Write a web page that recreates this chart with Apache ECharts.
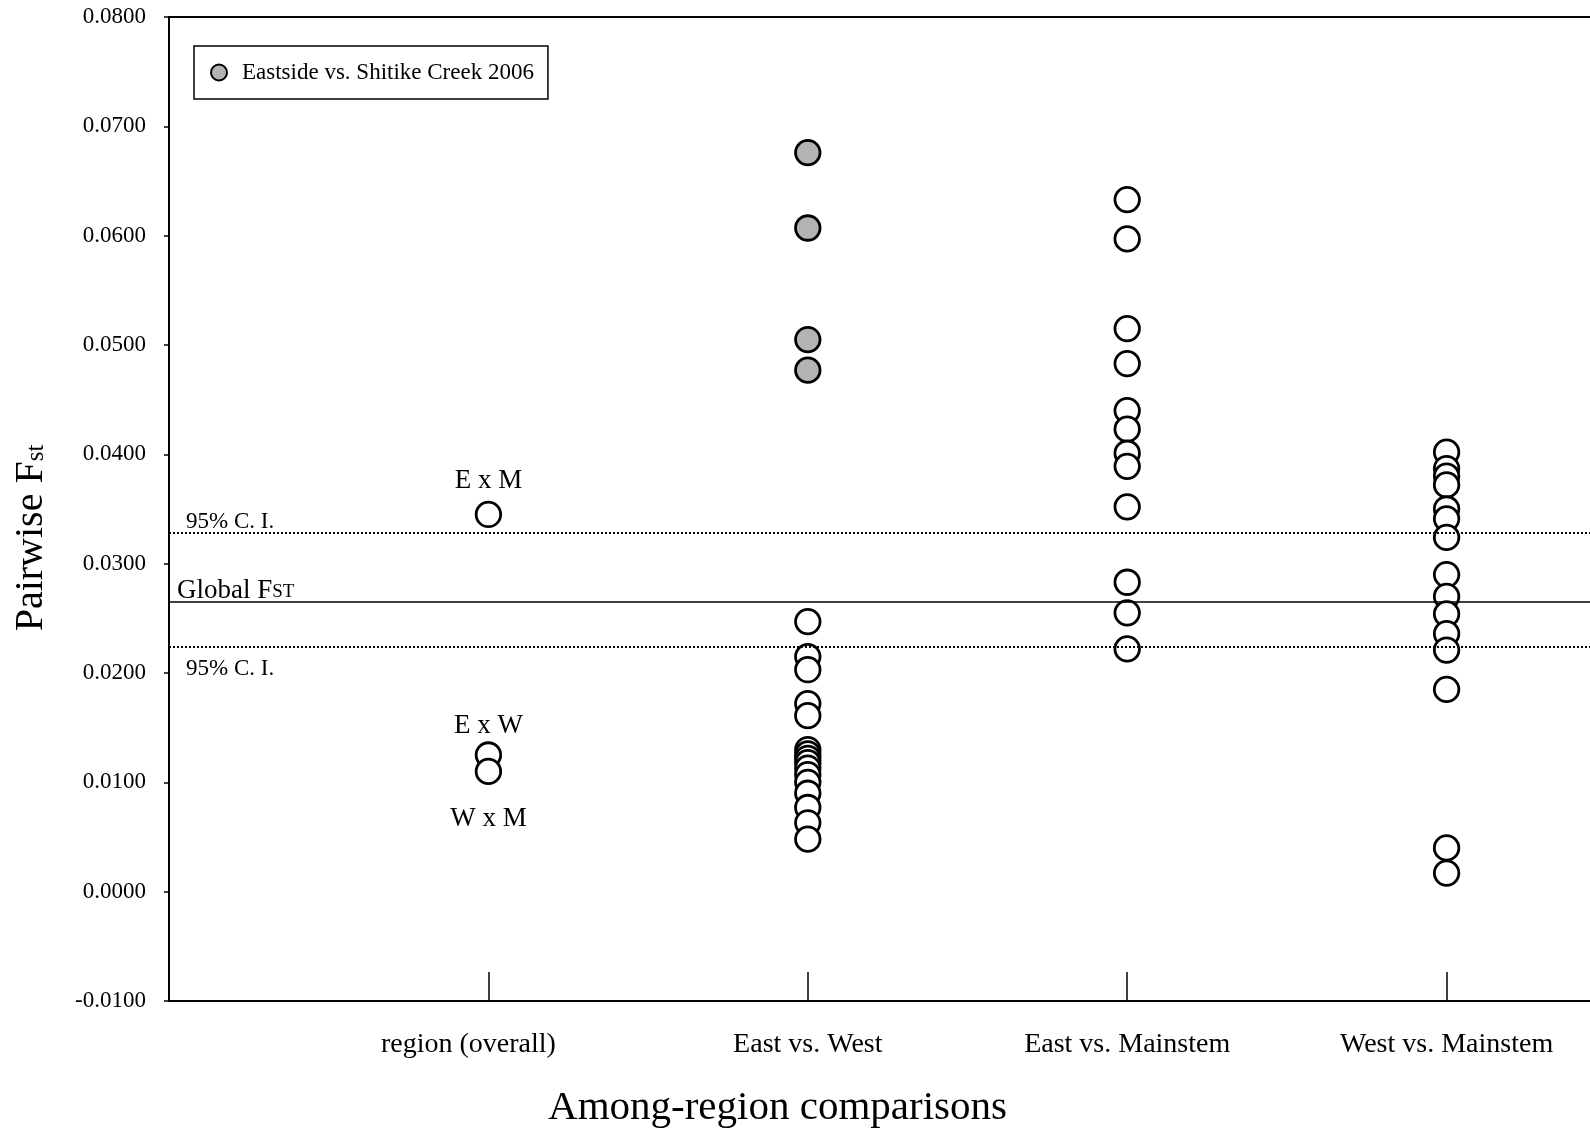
<!DOCTYPE html>
<html>
<head>
<meta charset="utf-8">
<script src="https://cdn.jsdelivr.net/npm/echarts@6/dist/echarts.min.js"></script>
<style>
html, body { margin: 0; padding: 0; background: #fff; }
#main { width: 1590px; height: 1129px; }
</style>
</head>
<body>
<div id="main"></div>
<script>
// x positions 1..4 are the comparison groups
var categories = ['region (overall)', 'East vs. West', 'East vs. Mainstem', 'West vs. Mainstem'];

// region (overall)
var regionPairs = ['E x M', 'E x W', 'W x M'];
var regionOverall = [0.0345, 0.0125, 0.0110];

// East vs. West, Eastside vs. Shitike Creek 2006 (grey)
var eastWestShitike = [0.0676, 0.0607, 0.0505, 0.0477];
// East vs. West, others
var eastWest = [0.0247, 0.0215, 0.0203, 0.0172, 0.0161, 0.0130, 0.0126, 0.0122, 0.0118,
    0.0113, 0.0107, 0.0100, 0.0090, 0.0077, 0.0063, 0.0048];
var eastMainstem = [0.0633, 0.0597, 0.0515, 0.0483, 0.0440, 0.0423, 0.0401, 0.0389,
    0.0352, 0.0283, 0.0255, 0.0222];
var westMainstem = [0.0402, 0.0387, 0.0380, 0.0372, 0.0350, 0.0341, 0.0324, 0.0290,
    0.0270, 0.0254, 0.0236, 0.0221, 0.0185, 0.0040, 0.0017];

// global Fst and its 95% C.I.
var globalFst = 0.0265;
var ciUpper = 0.0328;
var ciLower = 0.0224;

var serif = '"Liberation Serif", "Times New Roman", serif';

function pts(x, arr) {
    return arr.map(function (v) { return [x, v]; });
}

var whiteStyle = { color: '#ffffff', borderColor: '#000', borderWidth: 2.8, opacity: 1 };

var regionData = regionOverall.map(function (v, i) {
    var below = i === 2;
    return {
        value: [1, v],
        label: {
            show: true,
            formatter: regionPairs[i],
            position: below ? 'bottom' : 'top',
            distance: below ? 20 : (i === 0 ? 6 : 2),
            color: '#000',
            fontFamily: serif,
            fontSize: 27
        }
    };
});

var dom = echarts.init(document.getElementById('main'));

var option = {
    animation: false,
    backgroundColor: '#ffffff',
    textStyle: { fontFamily: serif, color: '#000' },
    grid: {
        left: 169,
        top: 17,
        right: 0,
        bottom: 128,
        containLabel: false,
        outerBoundsMode: 'none'
    },
    legend: {
        data: ['Eastside vs. Shitike Creek 2006'],
        left: 194,
        top: 46,
        orient: 'horizontal',
        padding: [15, 14, 15, 16],
        borderColor: '#000',
        borderWidth: 1.5,
        itemWidth: 16,
        itemHeight: 16,
        itemGap: 0,
        textStyle: {
            fontFamily: serif,
            fontSize: 23,
            color: '#000',
            padding: [0, 0, 0, 10]
        }
    },
    xAxis: [{
        type: 'value',
        min: 0,
        max: 4.449,
        interval: 1,
        name: 'Among-region comparisons',
        nameLocation: 'middle',
        nameGap: 87,
        nameTextStyle: { fontFamily: serif, fontSize: 41, color: '#000', padding: [0, 204, 0, 0] },
        axisLine: { show: true, onZero: false, lineStyle: { color: '#000', width: 2 } },
        axisTick: {
            show: true,
            inside: true,
            length: 29,
            customValues: [1, 2, 3, 4],
            lineStyle: { color: '#000', width: 1.5 }
        },
        axisLabel: {
            customValues: [1, 2, 3, 4],
            margin: 30,
            fontFamily: serif,
            fontSize: 28,
            color: '#000',
            formatter: function (v) {
                var i = Math.round(v) - 1;
                // first group label sits a little left of its tick
                return i === 0 ? '{r|' + categories[0] + '}' : (categories[i] || '');
            },
            rich: {
                r: { fontFamily: serif, fontSize: 28, color: '#000', padding: [0, 40, 0, 0] }
            }
        },
        splitLine: { show: false }
    }, {
        type: 'value',
        position: 'top',
        min: 0,
        max: 4.449,
        axisLine: { show: true, onZero: false, lineStyle: { color: '#000', width: 2 } },
        axisTick: { show: false },
        axisLabel: { show: false },
        splitLine: { show: false }
    }],
    yAxis: {
        type: 'value',
        min: -0.01,
        max: 0.08,
        interval: 0.01,
        name: '{a|Pairwise F}{b|st}',
        nameLocation: 'middle',
        nameGap: 118,
        nameTextStyle: {
            padding: [0, 58, 0, 0],
            rich: {
                a: { fontFamily: serif, fontSize: 40, color: '#000', verticalAlign: 'bottom' },
                b: { fontFamily: serif, fontSize: 25, color: '#000', verticalAlign: 'bottom', padding: [0, 0, 2, 0] }
            }
        },
        axisLine: { show: true, onZero: false, lineStyle: { color: '#000', width: 2 } },
        axisTick: { show: true, inside: false, length: 5, lineStyle: { color: '#000', width: 1.5 } },
        axisLabel: {
            margin: 23,
            fontFamily: serif,
            fontSize: 23,
            color: '#000',
            formatter: function (v) { return v.toFixed(4); }
        },
        splitLine: { show: false }
    },
    series: [{
        name: 'lines',
        type: 'line',
        data: [],
        z: 1,
        markLine: {
            silent: true,
            precision: 6,
            symbol: ['none', 'none'],
            data: [{
                yAxis: ciUpper,
                lineStyle: { color: '#000', width: 2, type: [2, 2] },
                label: {
                    show: true,
                    position: 'insideStartTop',
                    distance: [17, 0],
                    formatter: '95% C. I.',
                    fontFamily: serif,
                    fontSize: 23,
                    color: '#000'
                }
            }, {
                yAxis: globalFst,
                lineStyle: { color: '#000', width: 1.5, type: 'solid' },
                label: {
                    show: true,
                    position: 'insideStartTop',
                    distance: [8, -2],
                    formatter: '{a|Global F}{b|ST}',
                    rich: {
                        a: { fontFamily: serif, fontSize: 27, color: '#000', verticalAlign: 'bottom' },
                        b: { fontFamily: serif, fontSize: 19, color: '#000', verticalAlign: 'bottom', padding: [0, 0, 2, 0] }
                    }
                }
            }, {
                yAxis: ciLower,
                lineStyle: { color: '#000', width: 2, type: [2, 2] },
                label: {
                    show: true,
                    position: 'insideStartBottom',
                    distance: [17, 11],
                    formatter: '95% C. I.',
                    fontFamily: serif,
                    fontSize: 23,
                    color: '#000'
                }
            }]
        }
    }, {
        name: 'region (overall)',
        type: 'scatter',
        z: 3,
        symbol: 'circle',
        symbolSize: 24.5,
        itemStyle: whiteStyle,
        data: regionData
    }, {
        name: 'Eastside vs. Shitike Creek 2006',
        type: 'scatter',
        z: 3,
        symbol: 'circle',
        symbolSize: 24.5,
        itemStyle: { color: '#b3b3b3', borderColor: '#000', borderWidth: 2.8, opacity: 1 },
        data: pts(2, eastWestShitike)
    }, {
        name: 'East vs. West',
        type: 'scatter',
        z: 3,
        symbol: 'circle',
        symbolSize: 24.5,
        itemStyle: whiteStyle,
        data: pts(2, eastWest)
    }, {
        name: 'East vs. Mainstem',
        type: 'scatter',
        z: 3,
        symbol: 'circle',
        symbolSize: 24.5,
        itemStyle: whiteStyle,
        data: pts(3, eastMainstem)
    }, {
        name: 'West vs. Mainstem',
        type: 'scatter',
        z: 3,
        symbol: 'circle',
        symbolSize: 24.5,
        itemStyle: whiteStyle,
        data: pts(4, westMainstem)
    }]
};

dom.setOption(option);
</script>
</body>
</html>
